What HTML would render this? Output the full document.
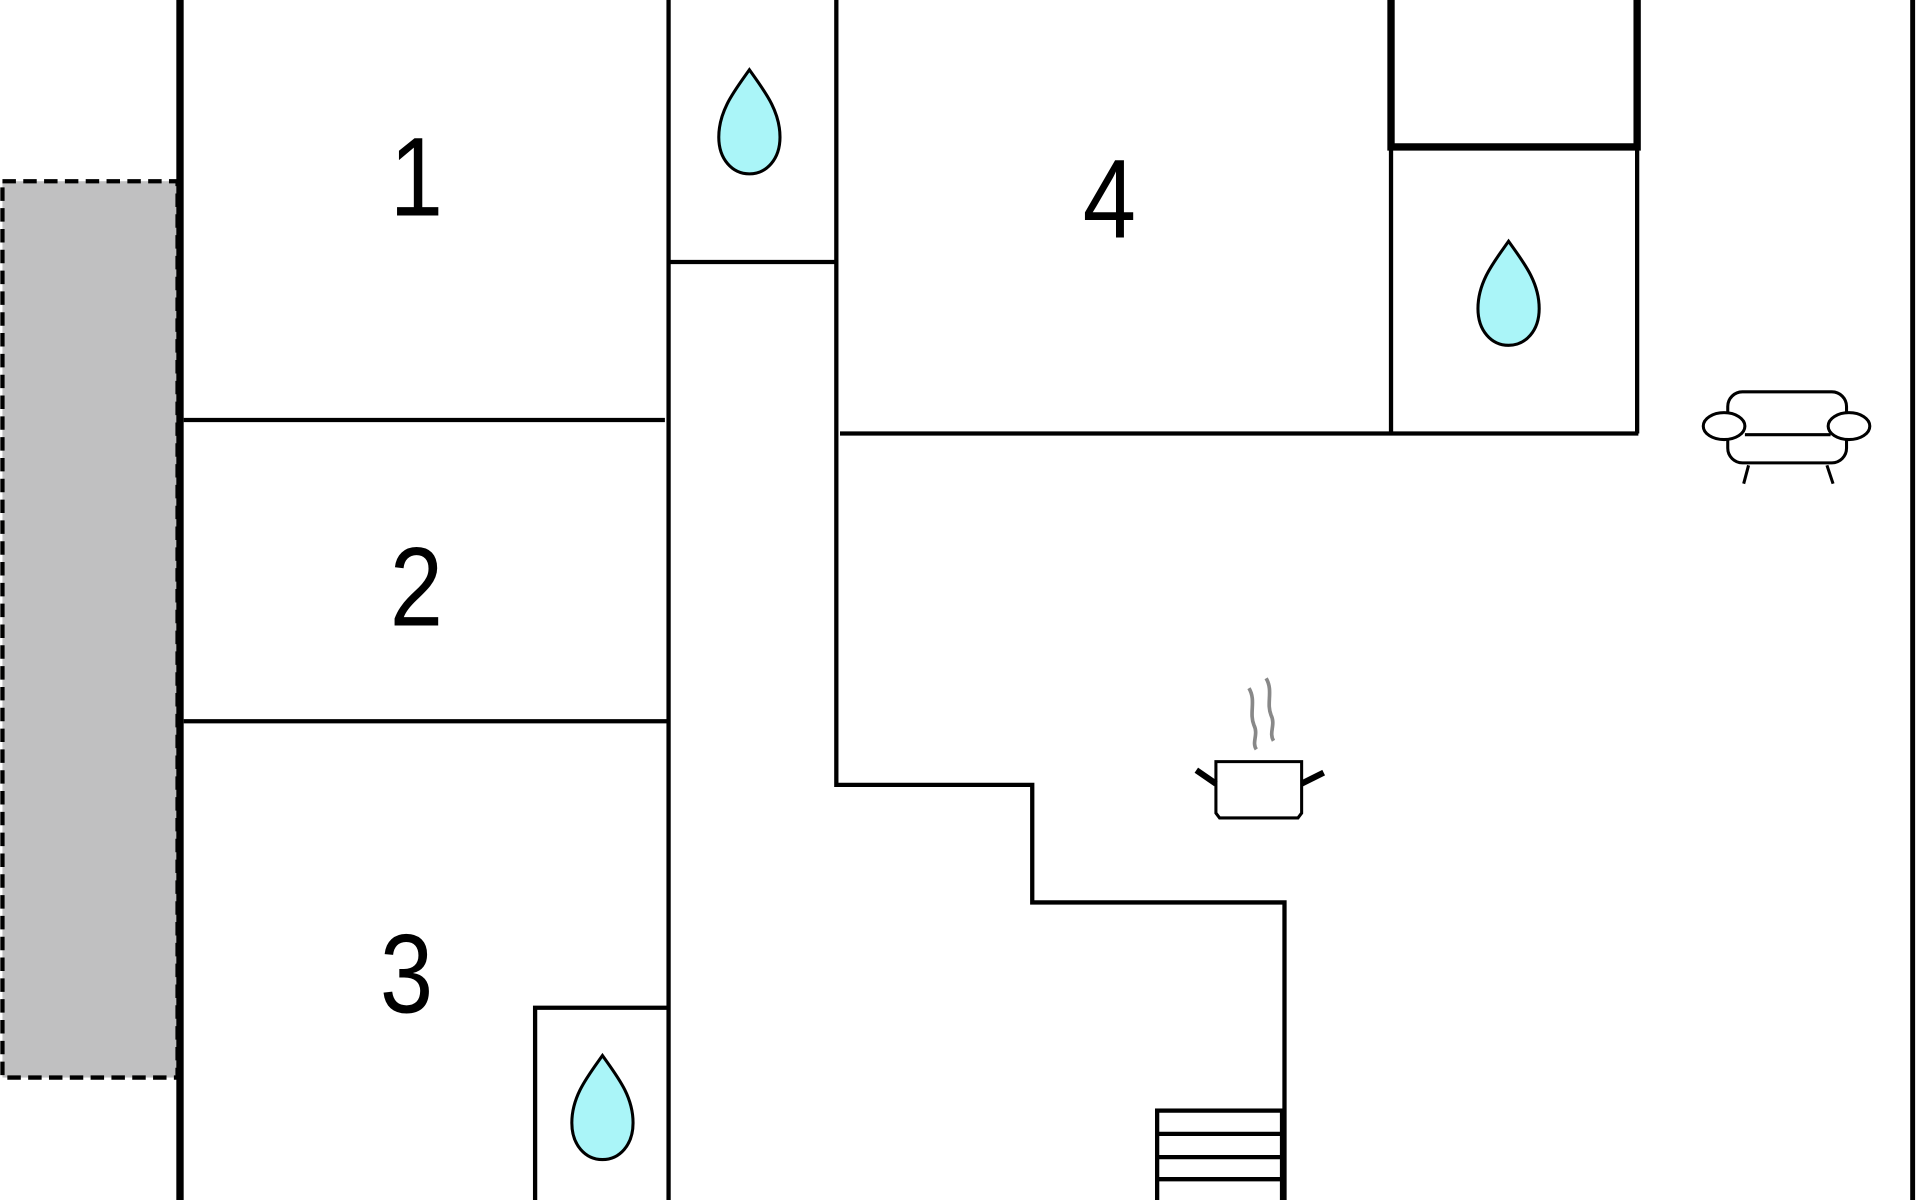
<!DOCTYPE html>
<html><head><meta charset="utf-8"><style>html,body{margin:0;padding:0;background:#fff;}svg{display:block}</style></head>
<body>
<svg width="1920" height="1200" viewBox="0 0 1568 980" xmlns="http://www.w3.org/2000/svg">
<defs>
<path id="drop" d="M0,-43 C12,-26 25,-10 25,12 C25,30 14,42 0,42 C-14,42 -25,30 -25,12 C-25,-10 -12,-26 0,-43 Z" fill="#aaf5f8" stroke="#000" stroke-width="2.5"/>
</defs>
<rect x="2" y="148" width="143" height="732" fill="#c0c0c1" stroke="#000" stroke-width="3.5" stroke-dasharray="11,6"/>
<g stroke="#000" fill="none">
<line x1="147" y1="0" x2="147" y2="980" stroke-width="6"/>
<line x1="1562" y1="0" x2="1562" y2="980" stroke-width="4"/>
<line x1="150" y1="343" x2="543" y2="343" stroke-width="3.5"/>
<line x1="150" y1="589" x2="546" y2="589" stroke-width="3.5"/>
<line x1="546" y1="0" x2="546" y2="980" stroke-width="3.5"/>
<line x1="546" y1="214" x2="683" y2="214" stroke-width="3.5"/>
<polyline points="683,0 683,641 843,641 843,737 1049,737 1049,980" stroke-width="3.5"/>
<line x1="686" y1="354" x2="1338" y2="354" stroke-width="3.5"/>
<line x1="1136" y1="122" x2="1136" y2="354" stroke-width="3.5"/>
<line x1="1337" y1="122" x2="1337" y2="354" stroke-width="3.5"/>
<polyline points="1136,0 1136,120 1337,120 1337,0" stroke-width="6"/>
<polyline points="437,980 437,823 546,823" stroke-width="3.5"/>
<rect x="945" y="907" width="102" height="80" stroke-width="3.5"/>
<line x1="945" y1="926" x2="1047" y2="926" stroke-width="3.5"/>
<line x1="945" y1="945" x2="1047" y2="945" stroke-width="3.5"/>
<line x1="945" y1="963" x2="1047" y2="963" stroke-width="3.5"/>
<g stroke-width="2.5" fill="#fff">
<rect x="1411" y="320" width="97" height="58" rx="12"/>
<line x1="1428" y1="380" x2="1424" y2="395"/>
<line x1="1492" y1="380" x2="1497" y2="395"/>
<line x1="1425" y1="355" x2="1495" y2="355"/>
<ellipse cx="1408" cy="348" rx="17" ry="11"/>
<ellipse cx="1510" cy="348" rx="17" ry="11"/>
</g>
<g stroke-width="2.5">
<path d="M993,622 H1063 V664 L1060,668 H996 L993,664 Z" fill="#fff"/>
<line x1="993" y1="640" x2="977" y2="629" stroke-width="5"/>
<line x1="1063" y1="640" x2="1081" y2="631" stroke-width="5"/>
<path d="M1020,562 C1026,572 1020,582 1024,592 C1028,600 1022,606 1026,612" stroke="#888" stroke-width="3"/>
<path d="M1034,554 C1040,564 1034,574 1038,584 C1042,592 1036,598 1040,605" stroke="#888" stroke-width="3"/>
</g>
</g>
<use href="#drop" x="612" y="100"/>
<use href="#drop" x="1232" y="240"/>
<use href="#drop" x="492" y="905"/>
<g font-family="Liberation Sans, sans-serif" font-size="92" text-anchor="middle" fill="#000">
<text transform="translate(340,176) scale(0.85,1)">1</text>
<text transform="translate(340,511) scale(0.85,1)">2</text>
<text transform="translate(332,827) scale(0.85,1)">3</text>
<text transform="translate(906,194) scale(0.85,1)">4</text>
</g>
</svg>
</body></html>
